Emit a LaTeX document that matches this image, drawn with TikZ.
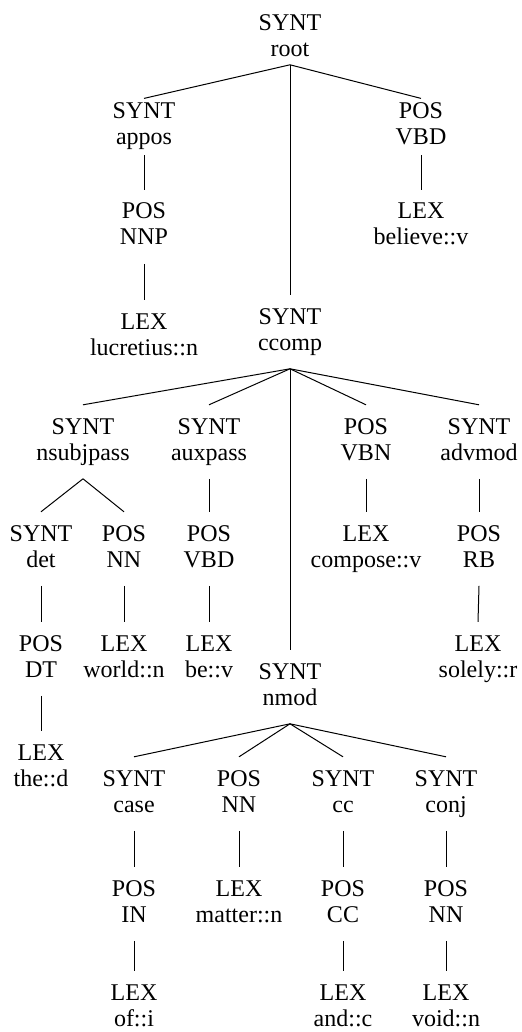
\documentclass[tikz,border=0pt]{standalone}
\usepackage{fontspec}
\setmainfont{Liberation Serif}
\newcommand{\twoline}[2]{\begin{tabular}[t]{@{}c@{}}#1\\#2\end{tabular}}
\newcommand{\twolinelast}[2]{\raisebox{0pt}[9.1pt][13pt]{\twoline{#1}{#2}}}
\begin{document}
\begin{tikzpicture}[x=0.5pt,y=-0.5pt,
  lab/.style={inner sep=0pt, outer xsep=0pt, outer ysep=5.5pt, anchor=base, font=\fontsize{12}{13}\selectfont},
  rootnode/.style={outer ysep=0pt},
  lvlone/.style={outer ysep=1.2pt},
  conn/.style={line width=0.5pt}]
\useasboundingbox (0,0) rectangle (521,1032);
% nodes
\node[lab,rootnode] (root) at (290,31) {\twoline{SYNT}{root}};
\node[lab,lvlone] (appos) at (144,119) {\twoline{SYNT}{appos}};
\node[lab,lvlone] (vbd) at (421,119) {\twoline{POS}{VBD}};
\node[lab] (nnp) at (144,219) {\twoline{POS}{NNP}};
\node[lab] (believe) at (421,219) {\twoline{LEX}{believe::v}};
\node[lab] (lucretius) at (144,329) {\twoline{LEX}{lucretius::n}};
\node[lab] (ccomp) at (290,324) {\twoline{SYNT}{ccomp}};
\node[lab] (nsubjpass) at (83,434) {\twoline{SYNT}{nsubjpass}};
\node[lab] (auxpass) at (209,434) {\twoline{SYNT}{auxpass}};
\node[lab] (vbn) at (366,434) {\twoline{POS}{VBN}};
\node[lab] (advmod) at (479,434) {\twoline{SYNT}{advmod}};
\node[lab] (det) at (41,541) {\twoline{SYNT}{det}};
\node[lab] (nna) at (124,541) {\twoline{POS}{NN}};
\node[lab] (vbdb) at (209,541) {\twoline{POS}{VBD}};
\node[lab] (compose) at (366,541) {\twoline{LEX}{compose::v}};
\node[lab] (rb) at (479,541) {\twoline{POS}{RB}};
\node[lab] (dt) at (41,651) {\twoline{POS}{DT}};
\node[lab] (world) at (124,651) {\twoline{LEX}{world::n}};
\node[lab] (be) at (209,651) {\twoline{LEX}{be::v}};
\node[lab] (solely) at (478,651) {\twoline{LEX}{solely::r}};
\node[lab] (nmod) at (290,679) {\twoline{SYNT}{nmod}};
\node[lab] (the) at (41,760) {\twoline{LEX}{the::d}};
\node[lab] (case) at (134,786) {\twoline{SYNT}{case}};
\node[lab] (nnb) at (239,786) {\twoline{POS}{NN}};
\node[lab] (cc) at (343,786) {\twoline{SYNT}{cc}};
\node[lab] (conj) at (446,786) {\twoline{SYNT}{conj}};
\node[lab] (in) at (134,896) {\twoline{POS}{IN}};
\node[lab] (matter) at (239,896) {\twoline{LEX}{matter::n}};
\node[lab] (ccpos) at (343,896) {\twoline{POS}{CC}};
\node[lab] (nnc) at (446,896) {\twoline{POS}{NN}};
\node[lab] (of) at (134,1000) {\twolinelast{LEX}{of::i}};
\node[lab] (and) at (343,1000) {\twolinelast{LEX}{and::c}};
\node[lab] (void) at (446,1000) {\twolinelast{LEX}{void::n}};
% connectors
\draw[conn] (root.south) -- (appos.north);
\draw[conn] (root.south) -- (vbd.north);
\draw[conn] (root.south) -- (ccomp.north);
\draw[conn] (appos.south) -- (nnp.north);
\draw[conn] (nnp.south) -- (lucretius.north);
\draw[conn] (vbd.south) -- (believe.north);
\draw[conn] (ccomp.south) -- (nsubjpass.north);
\draw[conn] (ccomp.south) -- (auxpass.north);
\draw[conn] (ccomp.south) -- (nmod.north);
\draw[conn] (ccomp.south) -- (vbn.north);
\draw[conn] (ccomp.south) -- (advmod.north);
\draw[conn] (nsubjpass.south) -- (det.north);
\draw[conn] (nsubjpass.south) -- (nna.north);
\draw[conn] (det.south) -- (dt.north);
\draw[conn] (dt.south) -- (the.north);
\draw[conn] (nna.south) -- (world.north);
\draw[conn] (auxpass.south) -- (vbdb.north);
\draw[conn] (vbdb.south) -- (be.north);
\draw[conn] (vbn.south) -- (compose.north);
\draw[conn] (advmod.south) -- (rb.north);
\draw[conn] (rb.south) -- (solely.north);
\draw[conn] (nmod.south) -- (case.north);
\draw[conn] (nmod.south) -- (nnb.north);
\draw[conn] (nmod.south) -- (cc.north);
\draw[conn] (nmod.south) -- (conj.north);
\draw[conn] (case.south) -- (in.north);
\draw[conn] (in.south) -- (of.north);
\draw[conn] (nnb.south) -- (matter.north);
\draw[conn] (cc.south) -- (ccpos.north);
\draw[conn] (ccpos.south) -- (and.north);
\draw[conn] (conj.south) -- (nnc.north);
\draw[conn] (nnc.south) -- (void.north);
\end{tikzpicture}
\end{document}
